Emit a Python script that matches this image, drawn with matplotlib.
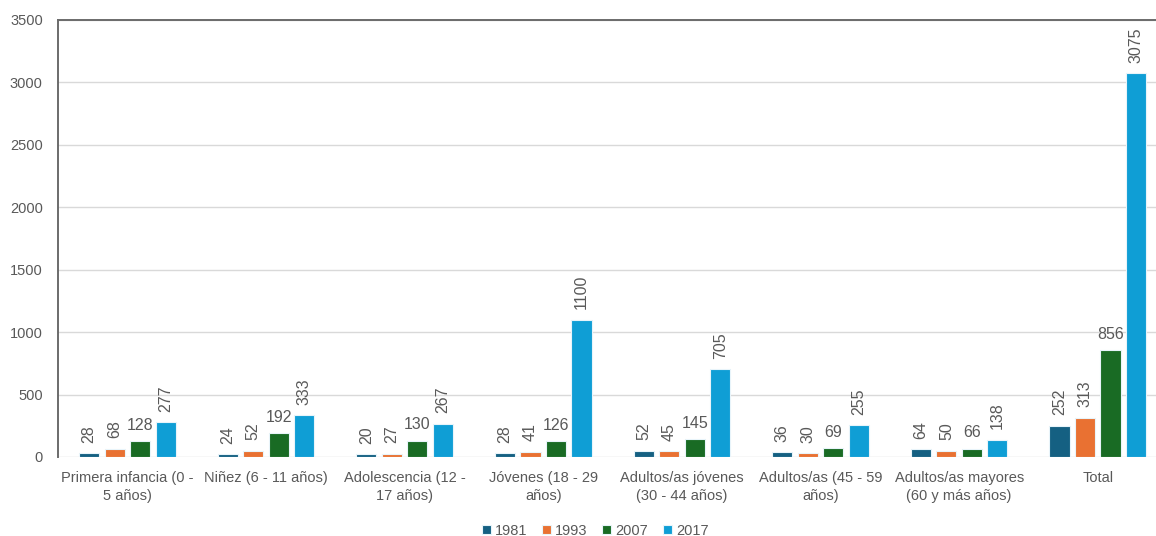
import numpy as np
import matplotlib.pyplot as plt

plt.rcParams['font.family'] = ['Liberation Sans', 'DejaVu Sans']

categories = [
    "Primera infancia (0 -\n5 años)",
    "Niñez (6 - 11 años)",
    "Adolescencia (12 -\n17 años)",
    "Jóvenes (18 - 29\naños)",
    "Adultos/as jóvenes\n(30 - 44 años)",
    "Adultos/as (45 - 59\naños)",
    "Adultos/as mayores\n(60 y más años)",
    "Total",
]
years = ["1981", "1993", "2007", "2017"]
v1981 = [28, 24, 20, 28, 52, 36, 64, 252]
v1993 = [68, 52, 27, 41, 45, 30, 50, 313]
v2007 = [128, 192, 130, 126, 145, 69, 66, 856]
v2017 = [277, 333, 267, 1100, 705, 255, 138, 3075]
series = [v1981, v1993, v2007, v2017]
colors = ["#156082", "#E97132", "#196B24", "#0F9ED5"]
yticks = [0, 500, 1000, 1500, 2000, 2500, 3000, 3500]

text_col = "#595959"

fig = plt.figure(figsize=(11.56, 5.36), dpi=100)
ax = fig.add_axes([0.0502, 0.1474, 0.9498, 0.8153])

x = np.arange(len(categories))
step = 0.184
width = 0.145
for i, (yr, vals, col) in enumerate(zip(years, series, colors)):
    pos = x + (i - 1.5) * step
    bars = ax.bar(pos, vals, width=width, color=col, edgecolor="#e8f4fa",
                  linewidth=0.8, label=yr, zorder=3)
    for b, v in zip(bars, vals):
        cx = b.get_x() + b.get_width() / 2
        if yr == "2007":
            # the 2007 labels stay horizontal in the original
            ax.annotate(str(v), (cx, v), xytext=(0, 6), textcoords="offset points",
                        ha="center", va="bottom", fontsize=11.5, color=text_col)
        else:
            ax.annotate(str(v), (cx, v), xytext=(0, 7.5), textcoords="offset points",
                        ha="center", va="bottom", rotation=90, fontsize=11.5,
                        color=text_col)

ax.set_xlim(-0.5, 7.42)
ax.set_ylim(0, 3500)
ax.set_yticks(yticks)
ax.set_xticks(x)
ax.set_xticklabels(categories, fontsize=10.5, color=text_col, linespacing=1.35)
ax.tick_params(axis="y", length=0, pad=11, labelsize=10.5, labelcolor=text_col)
ax.tick_params(axis="x", length=0, pad=10)

ax.grid(axis="y", color="#d9d9d9", linewidth=1, zorder=0)
ax.spines["right"].set_visible(False)
ax.spines["bottom"].set_visible(False)
for s in ["left", "top"]:
    ax.spines[s].set_color("#6b6b6b")
    ax.spines[s].set_linewidth(1.4)

fig.legend(loc="lower center", bbox_to_anchor=(0.515, -0.028), ncol=4,
           frameon=False, fontsize=10.5, handlelength=0.6, handleheight=0.6,
           handletextpad=0.3, columnspacing=1.0, labelcolor=text_col)

fig.savefig("out.png", dpi=100)
